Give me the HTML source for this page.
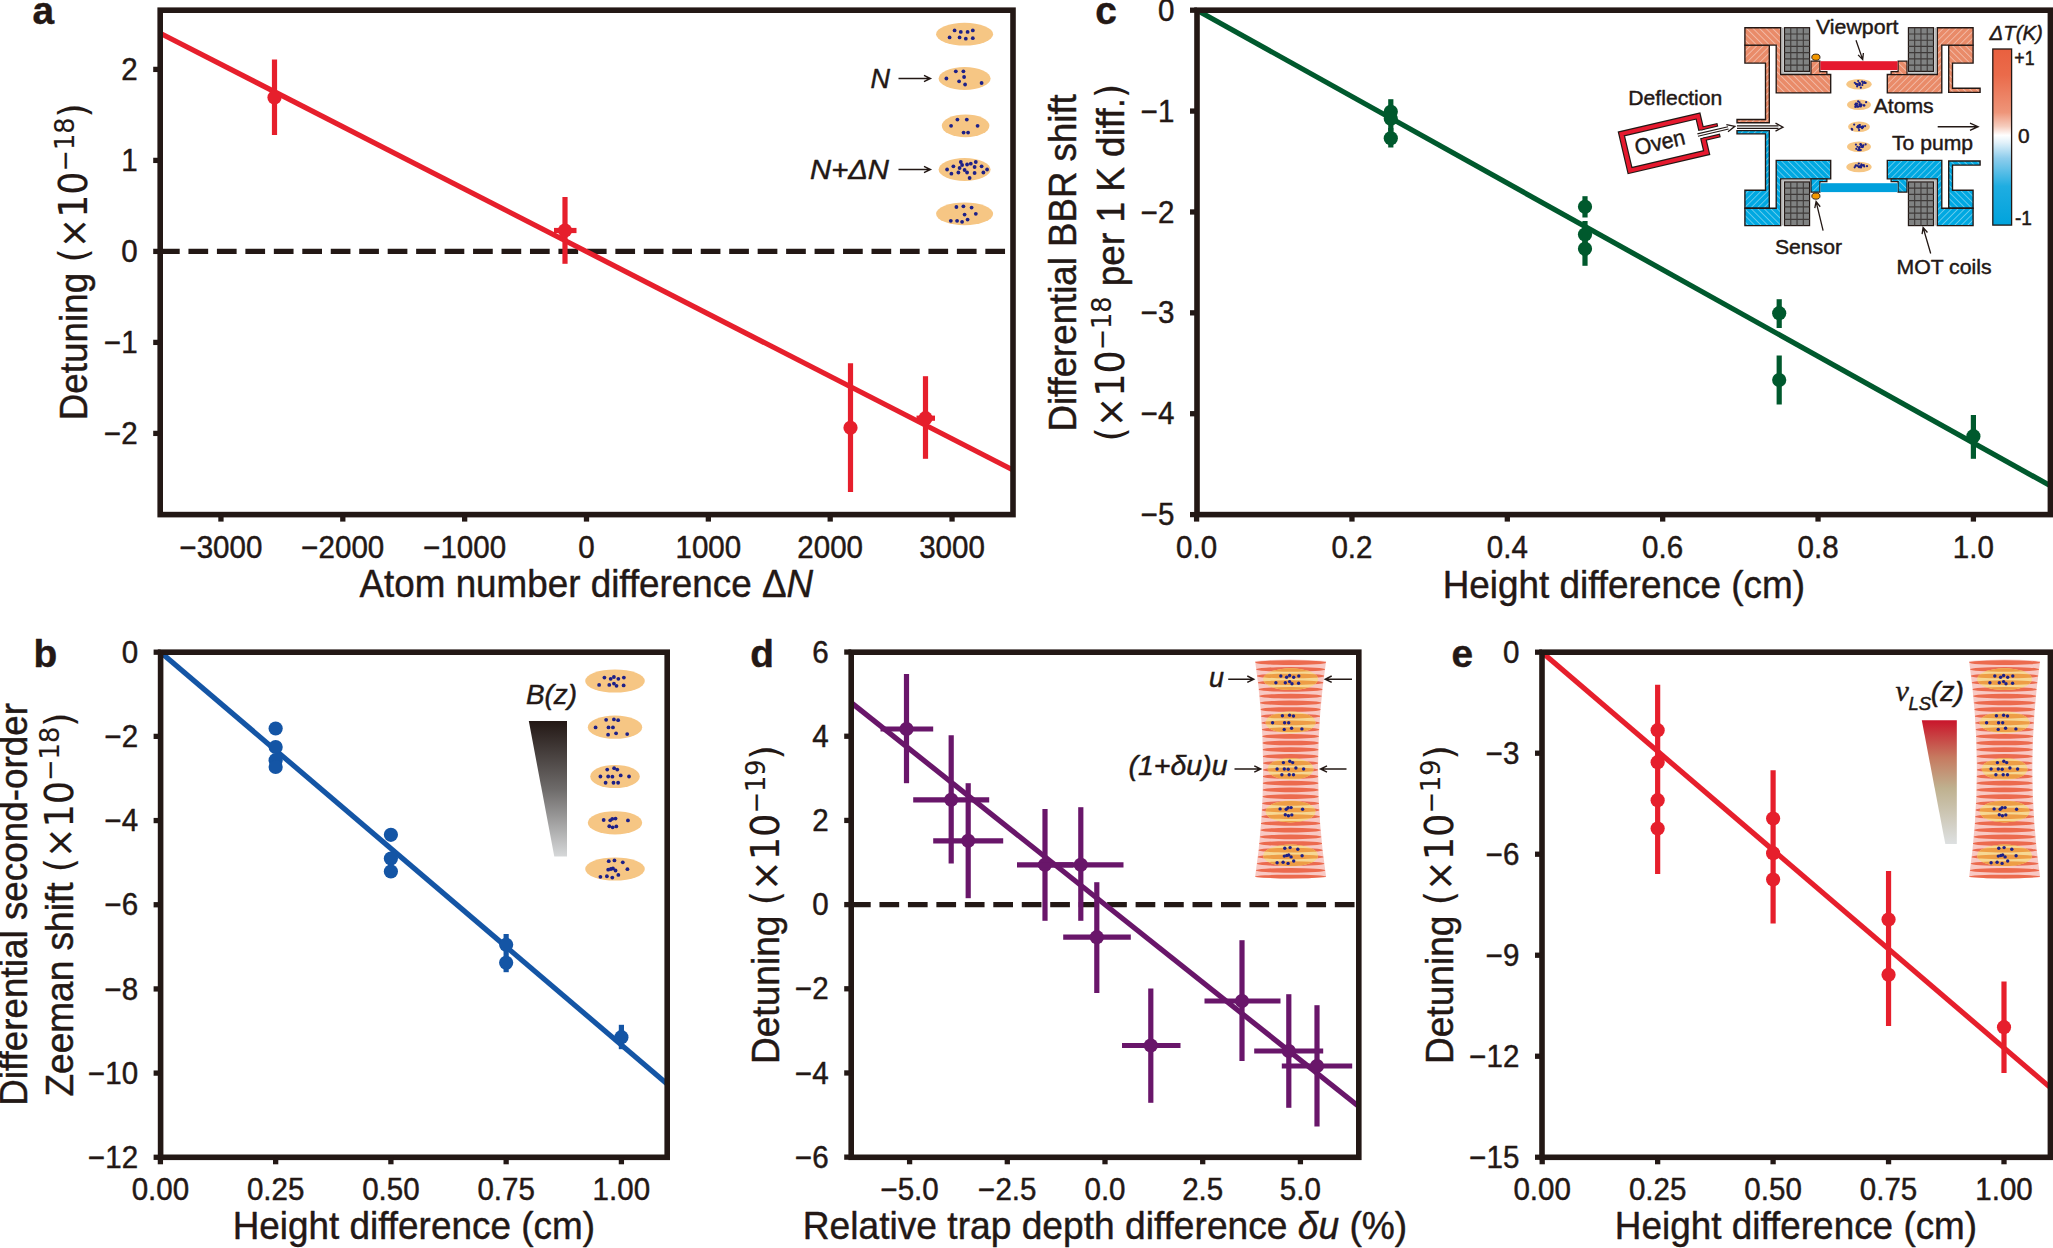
<!DOCTYPE html>
<html lang="en"><head><meta charset="utf-8"><title>Figure</title>
<style>html,body{margin:0;padding:0;background:#fff}svg{display:block}text{font-family:"Liberation Sans",sans-serif;fill:#231815;stroke:#231815;stroke-width:0.45px;stroke-linejoin:round}</style></head>
<body>
<svg width="2053" height="1248" viewBox="0 0 2053 1248">
<rect width="2053" height="1248" fill="#fff"/>
<line x1="160" y1="251.4" x2="1006" y2="251.4" stroke="#231815" stroke-width="5.4" stroke-dasharray="19.7 8.76"/>
<line x1="160.2" y1="33.2" x2="1013" y2="470" stroke="#E61F2C" stroke-width="5.2" />
<line x1="274.5" y1="59.5" x2="274.5" y2="135" stroke="#E61F2C" stroke-width="5.2"/>
<circle cx="274.5" cy="97.5" r="7.1" fill="#E61F2C"/>
<line x1="565" y1="197" x2="565" y2="263.8" stroke="#E61F2C" stroke-width="5.2"/>
<line x1="554" y1="230.5" x2="576.5" y2="230.5" stroke="#E61F2C" stroke-width="5.2"/>
<circle cx="565" cy="230.5" r="7.1" fill="#E61F2C"/>
<line x1="850.5" y1="363.2" x2="850.5" y2="492" stroke="#E61F2C" stroke-width="5.2"/>
<circle cx="850.5" cy="427.8" r="7.1" fill="#E61F2C"/>
<line x1="925.5" y1="376.2" x2="925.5" y2="458.8" stroke="#E61F2C" stroke-width="5.2"/>
<line x1="916.5" y1="418.2" x2="935" y2="418.2" stroke="#E61F2C" stroke-width="5.2"/>
<circle cx="925.5" cy="418.2" r="7.1" fill="#E61F2C"/>
<rect x="160.2" y="10.2" width="852.8" height="504.4" fill="none" stroke="#231815" stroke-width="5.6"/>
<line x1="220.95" y1="514.6" x2="220.95" y2="521.6" stroke="#231815" stroke-width="5.3"/>
<text x="220.95" y="557.9" font-size="30.6" text-anchor="middle" transform="translate(220.95,0) scale(0.966,1) translate(-220.95,0)">−3000</text>
<line x1="342.8" y1="514.6" x2="342.8" y2="521.6" stroke="#231815" stroke-width="5.3"/>
<text x="342.8" y="557.9" font-size="30.6" text-anchor="middle" transform="translate(342.8,0) scale(0.966,1) translate(-342.8,0)">−2000</text>
<line x1="464.65" y1="514.6" x2="464.65" y2="521.6" stroke="#231815" stroke-width="5.3"/>
<text x="464.65" y="557.9" font-size="30.6" text-anchor="middle" transform="translate(464.65,0) scale(0.966,1) translate(-464.65,0)">−1000</text>
<line x1="586.5" y1="514.6" x2="586.5" y2="521.6" stroke="#231815" stroke-width="5.3"/>
<text x="586.5" y="557.9" font-size="30.6" text-anchor="middle" transform="translate(586.5,0) scale(0.966,1) translate(-586.5,0)">0</text>
<line x1="708.35" y1="514.6" x2="708.35" y2="521.6" stroke="#231815" stroke-width="5.3"/>
<text x="708.35" y="557.9" font-size="30.6" text-anchor="middle" transform="translate(708.35,0) scale(0.966,1) translate(-708.35,0)">1000</text>
<line x1="830.2" y1="514.6" x2="830.2" y2="521.6" stroke="#231815" stroke-width="5.3"/>
<text x="830.2" y="557.9" font-size="30.6" text-anchor="middle" transform="translate(830.2,0) scale(0.966,1) translate(-830.2,0)">2000</text>
<line x1="952.05" y1="514.6" x2="952.05" y2="521.6" stroke="#231815" stroke-width="5.3"/>
<text x="952.05" y="557.9" font-size="30.6" text-anchor="middle" transform="translate(952.05,0) scale(0.966,1) translate(-952.05,0)">3000</text>
<line x1="160.2" y1="69.4" x2="153.2" y2="69.4" stroke="#231815" stroke-width="5.3"/>
<text x="137.7" y="80" font-size="30.6" text-anchor="end" transform="translate(137.7,0) scale(0.966,1) translate(-137.7,0)">2</text>
<line x1="160.2" y1="160.4" x2="153.2" y2="160.4" stroke="#231815" stroke-width="5.3"/>
<text x="137.7" y="171" font-size="30.6" text-anchor="end" transform="translate(137.7,0) scale(0.966,1) translate(-137.7,0)">1</text>
<line x1="160.2" y1="251.4" x2="153.2" y2="251.4" stroke="#231815" stroke-width="5.3"/>
<text x="137.7" y="262" font-size="30.6" text-anchor="end" transform="translate(137.7,0) scale(0.966,1) translate(-137.7,0)">0</text>
<line x1="160.2" y1="342.4" x2="153.2" y2="342.4" stroke="#231815" stroke-width="5.3"/>
<text x="137.7" y="353" font-size="30.6" text-anchor="end" transform="translate(137.7,0) scale(0.966,1) translate(-137.7,0)">−1</text>
<line x1="160.2" y1="433.4" x2="153.2" y2="433.4" stroke="#231815" stroke-width="5.3"/>
<text x="137.7" y="444" font-size="30.6" text-anchor="end" transform="translate(137.7,0) scale(0.966,1) translate(-137.7,0)">−2</text>
<text x="586.3" y="596.7" font-size="39.3" text-anchor="middle" textLength="453.6" lengthAdjust="spacingAndGlyphs">Atom number difference Δ<tspan font-style="italic">N</tspan></text>
<g transform="translate(87.2,261.85) rotate(-90) scale(0.9457,1)"><text x="0" y="0" font-size="39" text-anchor="middle">Detuning <tspan font-family="DejaVu Sans, sans-serif" font-size="38.5" stroke-width="0.15">(×10</tspan><tspan font-family="DejaVu Sans, sans-serif" font-size="27" dy="-13.4" stroke-width="0.15">−18</tspan><tspan font-family="DejaVu Sans, sans-serif" font-size="38.5" dy="13.4" stroke-width="0.15">)</tspan></text></g>
<text x="32.4" y="24.4" font-size="38.8" font-weight="bold" stroke-width="0.2">a</text>
<ellipse cx="964.6" cy="34.2" rx="28.5" ry="11.4" fill="#F6C684"/>
<circle cx="954.6" cy="30.4" r="1.9" fill="#1D2088"/>
<circle cx="960.8" cy="31.9" r="1.9" fill="#1D2088"/>
<circle cx="967.6" cy="31.9" r="1.9" fill="#1D2088"/>
<circle cx="972.8" cy="30.4" r="1.9" fill="#1D2088"/>
<circle cx="949.6" cy="37.4" r="1.9" fill="#1D2088"/>
<circle cx="959.6" cy="37.4" r="1.9" fill="#1D2088"/>
<circle cx="965.8" cy="38.7" r="1.9" fill="#1D2088"/>
<circle cx="972.8" cy="38.2" r="1.9" fill="#1D2088"/>
<ellipse cx="964.6" cy="78.5" rx="26" ry="11.4" fill="#F6C684"/>
<circle cx="955.8" cy="71.3" r="1.9" fill="#1D2088"/>
<circle cx="963.4" cy="71.3" r="1.9" fill="#1D2088"/>
<circle cx="946.4" cy="78.5" r="1.9" fill="#1D2088"/>
<circle cx="964.1" cy="77" r="1.9" fill="#1D2088"/>
<circle cx="959.1" cy="81.3" r="1.9" fill="#1D2088"/>
<circle cx="965.1" cy="84.5" r="1.9" fill="#1D2088"/>
<circle cx="981.6" cy="83" r="1.9" fill="#1D2088"/>
<ellipse cx="965.6" cy="125.8" rx="23.8" ry="11.4" fill="#F6C684"/>
<circle cx="957.4" cy="119.6" r="1.9" fill="#1D2088"/>
<circle cx="966.8" cy="119.6" r="1.9" fill="#1D2088"/>
<circle cx="951.1" cy="125.8" r="1.9" fill="#1D2088"/>
<circle cx="977.6" cy="125.8" r="1.9" fill="#1D2088"/>
<circle cx="963.6" cy="132.6" r="1.9" fill="#1D2088"/>
<circle cx="968.1" cy="132.6" r="1.9" fill="#1D2088"/>
<ellipse cx="964.6" cy="169.5" rx="26" ry="11.4" fill="#F6C684"/>
<circle cx="960.8" cy="162" r="1.9" fill="#1D2088"/>
<circle cx="975.8" cy="162" r="1.9" fill="#1D2088"/>
<circle cx="953.4" cy="166.3" r="1.9" fill="#1D2088"/>
<circle cx="962.1" cy="165" r="1.9" fill="#1D2088"/>
<circle cx="967.1" cy="164.5" r="1.9" fill="#1D2088"/>
<circle cx="970.8" cy="163.7" r="1.9" fill="#1D2088"/>
<circle cx="974.6" cy="167" r="1.9" fill="#1D2088"/>
<circle cx="981.6" cy="166.3" r="1.9" fill="#1D2088"/>
<circle cx="947.1" cy="169.5" r="1.9" fill="#1D2088"/>
<circle cx="959.6" cy="168" r="1.9" fill="#1D2088"/>
<circle cx="964.6" cy="170" r="1.9" fill="#1D2088"/>
<circle cx="987.1" cy="169.5" r="1.9" fill="#1D2088"/>
<circle cx="951.4" cy="173.7" r="1.9" fill="#1D2088"/>
<circle cx="958.4" cy="172.5" r="1.9" fill="#1D2088"/>
<circle cx="967.1" cy="172.5" r="1.9" fill="#1D2088"/>
<circle cx="974.6" cy="173" r="1.9" fill="#1D2088"/>
<circle cx="983.4" cy="172.5" r="1.9" fill="#1D2088"/>
<circle cx="969.6" cy="178" r="1.9" fill="#1D2088"/>
<ellipse cx="964.6" cy="213.8" rx="28.5" ry="11.4" fill="#F6C684"/>
<circle cx="956.4" cy="207" r="1.9" fill="#1D2088"/>
<circle cx="963.4" cy="206.3" r="1.9" fill="#1D2088"/>
<circle cx="971.6" cy="207.6" r="1.9" fill="#1D2088"/>
<circle cx="975.8" cy="213.8" r="1.9" fill="#1D2088"/>
<circle cx="964.6" cy="214.6" r="1.9" fill="#1D2088"/>
<circle cx="950.8" cy="220.8" r="1.9" fill="#1D2088"/>
<circle cx="957.1" cy="220.8" r="1.9" fill="#1D2088"/>
<circle cx="962.1" cy="221.8" r="1.9" fill="#1D2088"/>
<circle cx="967.6" cy="219.6" r="1.9" fill="#1D2088"/>
<text x="870.5" y="88.2" font-size="27" font-style="italic">N</text>
<path d="M898.5 78.5L930.5 78.5M924 81.7L930.5 78.5L924 75.3" fill="none" stroke="#231815" stroke-width="1.4" stroke-linejoin="miter"/>
<text x="810" y="179" font-size="27" font-style="italic" textLength="79" lengthAdjust="spacingAndGlyphs">N+ΔN</text>
<path d="M898.5 169.5L930.5 169.5M924 172.7L930.5 169.5L924 166.3" fill="none" stroke="#231815" stroke-width="1.4" stroke-linejoin="miter"/>
<line x1="1197" y1="10.2" x2="2050.4" y2="485.8" stroke="#00592D" stroke-width="5.2" />
<line x1="1390.8" y1="99.2" x2="1390.8" y2="124" stroke="#00592D" stroke-width="5.2"/>
<circle cx="1390.8" cy="111.8" r="7.1" fill="#00592D"/>
<line x1="1390.8" y1="106" x2="1390.8" y2="131" stroke="#00592D" stroke-width="5.2"/>
<circle cx="1390.8" cy="118.8" r="7.1" fill="#00592D"/>
<line x1="1390.8" y1="128" x2="1390.8" y2="147.5" stroke="#00592D" stroke-width="5.2"/>
<circle cx="1390.8" cy="138.2" r="7.1" fill="#00592D"/>
<line x1="1585" y1="196.2" x2="1585" y2="217.5" stroke="#00592D" stroke-width="5.2"/>
<circle cx="1585" cy="206.8" r="7.1" fill="#00592D"/>
<line x1="1585" y1="221" x2="1585" y2="248" stroke="#00592D" stroke-width="5.2"/>
<circle cx="1585" cy="234.5" r="7.1" fill="#00592D"/>
<line x1="1585" y1="234" x2="1585" y2="265.8" stroke="#00592D" stroke-width="5.2"/>
<circle cx="1585" cy="248.8" r="7.1" fill="#00592D"/>
<line x1="1779.2" y1="299.2" x2="1779.2" y2="328" stroke="#00592D" stroke-width="5.2"/>
<circle cx="1779.2" cy="313.2" r="7.1" fill="#00592D"/>
<line x1="1779.2" y1="355.5" x2="1779.2" y2="404.5" stroke="#00592D" stroke-width="5.2"/>
<circle cx="1779.2" cy="380" r="7.1" fill="#00592D"/>
<line x1="1973.4" y1="415" x2="1973.4" y2="458.8" stroke="#00592D" stroke-width="5.2"/>
<circle cx="1973.4" cy="436.2" r="7.1" fill="#00592D"/>
<rect x="1197" y="10.2" width="853.4" height="504.4" fill="none" stroke="#231815" stroke-width="5.6"/>
<line x1="1196.6" y1="514.6" x2="1196.6" y2="521.6" stroke="#231815" stroke-width="5.3"/>
<text x="1196.6" y="557.8" font-size="30.6" text-anchor="middle" transform="translate(1196.6,0) scale(0.966,1) translate(-1196.6,0)">0.0</text>
<line x1="1351.96" y1="514.6" x2="1351.96" y2="521.6" stroke="#231815" stroke-width="5.3"/>
<text x="1351.96" y="557.8" font-size="30.6" text-anchor="middle" transform="translate(1351.96,0) scale(0.966,1) translate(-1351.96,0)">0.2</text>
<line x1="1507.32" y1="514.6" x2="1507.32" y2="521.6" stroke="#231815" stroke-width="5.3"/>
<text x="1507.32" y="557.8" font-size="30.6" text-anchor="middle" transform="translate(1507.32,0) scale(0.966,1) translate(-1507.32,0)">0.4</text>
<line x1="1662.68" y1="514.6" x2="1662.68" y2="521.6" stroke="#231815" stroke-width="5.3"/>
<text x="1662.68" y="557.8" font-size="30.6" text-anchor="middle" transform="translate(1662.68,0) scale(0.966,1) translate(-1662.68,0)">0.6</text>
<line x1="1818.04" y1="514.6" x2="1818.04" y2="521.6" stroke="#231815" stroke-width="5.3"/>
<text x="1818.04" y="557.8" font-size="30.6" text-anchor="middle" transform="translate(1818.04,0) scale(0.966,1) translate(-1818.04,0)">0.8</text>
<line x1="1973.4" y1="514.6" x2="1973.4" y2="521.6" stroke="#231815" stroke-width="5.3"/>
<text x="1973.4" y="557.8" font-size="30.6" text-anchor="middle" transform="translate(1973.4,0) scale(0.966,1) translate(-1973.4,0)">1.0</text>
<line x1="1197" y1="10.2" x2="1190" y2="10.2" stroke="#231815" stroke-width="5.3"/>
<text x="1174.5" y="20.8" font-size="30.6" text-anchor="end" transform="translate(1174.5,0) scale(0.966,1) translate(-1174.5,0)">0</text>
<line x1="1197" y1="111.08" x2="1190" y2="111.08" stroke="#231815" stroke-width="5.3"/>
<text x="1174.5" y="121.68" font-size="30.6" text-anchor="end" transform="translate(1174.5,0) scale(0.966,1) translate(-1174.5,0)">−1</text>
<line x1="1197" y1="211.96" x2="1190" y2="211.96" stroke="#231815" stroke-width="5.3"/>
<text x="1174.5" y="222.56" font-size="30.6" text-anchor="end" transform="translate(1174.5,0) scale(0.966,1) translate(-1174.5,0)">−2</text>
<line x1="1197" y1="312.84" x2="1190" y2="312.84" stroke="#231815" stroke-width="5.3"/>
<text x="1174.5" y="323.44" font-size="30.6" text-anchor="end" transform="translate(1174.5,0) scale(0.966,1) translate(-1174.5,0)">−3</text>
<line x1="1197" y1="413.72" x2="1190" y2="413.72" stroke="#231815" stroke-width="5.3"/>
<text x="1174.5" y="424.32" font-size="30.6" text-anchor="end" transform="translate(1174.5,0) scale(0.966,1) translate(-1174.5,0)">−4</text>
<line x1="1197" y1="514.6" x2="1190" y2="514.6" stroke="#231815" stroke-width="5.3"/>
<text x="1174.5" y="525.2" font-size="30.6" text-anchor="end" transform="translate(1174.5,0) scale(0.966,1) translate(-1174.5,0)">−5</text>
<text x="1623.8" y="597.5" font-size="39.3" text-anchor="middle" textLength="362.3" lengthAdjust="spacingAndGlyphs">Height difference (cm)</text>
<g transform="translate(1076,262.9) rotate(-90) scale(0.9399,1)"><text x="0" y="0" font-size="39" text-anchor="middle">Differential BBR shift</text></g>
<g transform="translate(1123.9,262.65) rotate(-90) scale(0.9468,1)"><text x="0" y="0" font-size="39" text-anchor="middle"><tspan font-family="DejaVu Sans, sans-serif" font-size="38.5" stroke-width="0.15">(×10</tspan><tspan font-family="DejaVu Sans, sans-serif" font-size="27" dy="-13.4" stroke-width="0.15">−18</tspan><tspan dy="13.4"> </tspan>per 1 K diff.<tspan font-family="DejaVu Sans, sans-serif" font-size="38.5" stroke-width="0.15">)</tspan></text></g>
<text x="1095.3" y="24.4" font-size="38.8" font-weight="bold" stroke-width="0.2">c</text>
<line x1="160.6" y1="652.2" x2="667.2" y2="1084" stroke="#1455A5" stroke-width="5.2" />
<circle cx="275.65" cy="728.5" r="7.1" fill="#1455A5"/>
<circle cx="275.65" cy="747" r="7.1" fill="#1455A5"/>
<circle cx="275.65" cy="760.2" r="7.1" fill="#1455A5"/>
<circle cx="275.65" cy="767" r="7.1" fill="#1455A5"/>
<circle cx="390.9" cy="834.8" r="7.1" fill="#1455A5"/>
<circle cx="390.9" cy="858.5" r="7.1" fill="#1455A5"/>
<circle cx="390.9" cy="871.5" r="7.1" fill="#1455A5"/>
<line x1="506.15" y1="934" x2="506.15" y2="972.2" stroke="#1455A5" stroke-width="5.2"/>
<circle cx="506.15" cy="944.8" r="7.1" fill="#1455A5"/>
<circle cx="506.15" cy="962.8" r="7.1" fill="#1455A5"/>
<line x1="621.4" y1="1024.8" x2="621.4" y2="1049.2" stroke="#1455A5" stroke-width="5.2"/>
<circle cx="621.4" cy="1037.2" r="7.1" fill="#1455A5"/>
<rect x="160.6" y="652.2" width="506.6" height="505.1" fill="none" stroke="#231815" stroke-width="5.6"/>
<line x1="160.4" y1="1157.3" x2="160.4" y2="1164.3" stroke="#231815" stroke-width="5.3"/>
<text x="160.4" y="1199.7" font-size="30.6" text-anchor="middle" transform="translate(160.4,0) scale(0.966,1) translate(-160.4,0)">0.00</text>
<line x1="275.65" y1="1157.3" x2="275.65" y2="1164.3" stroke="#231815" stroke-width="5.3"/>
<text x="275.65" y="1199.7" font-size="30.6" text-anchor="middle" transform="translate(275.65,0) scale(0.966,1) translate(-275.65,0)">0.25</text>
<line x1="390.9" y1="1157.3" x2="390.9" y2="1164.3" stroke="#231815" stroke-width="5.3"/>
<text x="390.9" y="1199.7" font-size="30.6" text-anchor="middle" transform="translate(390.9,0) scale(0.966,1) translate(-390.9,0)">0.50</text>
<line x1="506.15" y1="1157.3" x2="506.15" y2="1164.3" stroke="#231815" stroke-width="5.3"/>
<text x="506.15" y="1199.7" font-size="30.6" text-anchor="middle" transform="translate(506.15,0) scale(0.966,1) translate(-506.15,0)">0.75</text>
<line x1="621.4" y1="1157.3" x2="621.4" y2="1164.3" stroke="#231815" stroke-width="5.3"/>
<text x="621.4" y="1199.7" font-size="30.6" text-anchor="middle" transform="translate(621.4,0) scale(0.966,1) translate(-621.4,0)">1.00</text>
<line x1="160.6" y1="652.2" x2="153.6" y2="652.2" stroke="#231815" stroke-width="5.3"/>
<text x="138.1" y="662.8" font-size="30.6" text-anchor="end" transform="translate(138.1,0) scale(0.966,1) translate(-138.1,0)">0</text>
<line x1="160.6" y1="736.38" x2="153.6" y2="736.38" stroke="#231815" stroke-width="5.3"/>
<text x="138.1" y="746.98" font-size="30.6" text-anchor="end" transform="translate(138.1,0) scale(0.966,1) translate(-138.1,0)">−2</text>
<line x1="160.6" y1="820.56" x2="153.6" y2="820.56" stroke="#231815" stroke-width="5.3"/>
<text x="138.1" y="831.16" font-size="30.6" text-anchor="end" transform="translate(138.1,0) scale(0.966,1) translate(-138.1,0)">−4</text>
<line x1="160.6" y1="904.74" x2="153.6" y2="904.74" stroke="#231815" stroke-width="5.3"/>
<text x="138.1" y="915.34" font-size="30.6" text-anchor="end" transform="translate(138.1,0) scale(0.966,1) translate(-138.1,0)">−6</text>
<line x1="160.6" y1="988.92" x2="153.6" y2="988.92" stroke="#231815" stroke-width="5.3"/>
<text x="138.1" y="999.52" font-size="30.6" text-anchor="end" transform="translate(138.1,0) scale(0.966,1) translate(-138.1,0)">−8</text>
<line x1="160.6" y1="1073.1" x2="153.6" y2="1073.1" stroke="#231815" stroke-width="5.3"/>
<text x="138.1" y="1083.7" font-size="30.6" text-anchor="end" transform="translate(138.1,0) scale(0.966,1) translate(-138.1,0)">−10</text>
<line x1="160.6" y1="1157.28" x2="153.6" y2="1157.28" stroke="#231815" stroke-width="5.3"/>
<text x="138.1" y="1167.88" font-size="30.6" text-anchor="end" transform="translate(138.1,0) scale(0.966,1) translate(-138.1,0)">−12</text>
<text x="413.8" y="1238.6" font-size="39.3" text-anchor="middle" textLength="362.3" lengthAdjust="spacingAndGlyphs">Height difference (cm)</text>
<g transform="translate(27.1,904.35) rotate(-90) scale(0.9457,1)"><text x="0" y="0" font-size="39" text-anchor="middle">Differential second-order</text></g>
<g transform="translate(72.5,904.55) rotate(-90) scale(0.9497,1)"><text x="0" y="0" font-size="39" text-anchor="middle">Zeeman shift <tspan font-family="DejaVu Sans, sans-serif" font-size="38.5" stroke-width="0.15">(×10</tspan><tspan font-family="DejaVu Sans, sans-serif" font-size="27" dy="-13.4" stroke-width="0.15">−18</tspan><tspan font-family="DejaVu Sans, sans-serif" font-size="38.5" dy="13.4" stroke-width="0.15">)</tspan></text></g>
<text x="33.6" y="666.8" font-size="38.8" font-weight="bold" stroke-width="0.2">b</text>
<ellipse cx="615" cy="681" rx="29.8" ry="11.6" fill="#F6C684"/>
<circle cx="604.42" cy="677.54" r="1.9" fill="#1D2088"/>
<circle cx="610.68" cy="678.84" r="1.9" fill="#1D2088"/>
<circle cx="613.92" cy="677" r="1.9" fill="#1D2088"/>
<circle cx="618.35" cy="678.84" r="1.9" fill="#1D2088"/>
<circle cx="623.86" cy="677.54" r="1.9" fill="#1D2088"/>
<circle cx="599.12" cy="684.89" r="1.9" fill="#1D2088"/>
<circle cx="609.28" cy="684.89" r="1.9" fill="#1D2088"/>
<circle cx="613.92" cy="683.59" r="1.9" fill="#1D2088"/>
<circle cx="616.51" cy="685.86" r="1.9" fill="#1D2088"/>
<circle cx="623.64" cy="685.43" r="1.9" fill="#1D2088"/>
<ellipse cx="615" cy="727.2" rx="27.2" ry="11.6" fill="#F6C684"/>
<circle cx="606.14" cy="719.86" r="1.9" fill="#1D2088"/>
<circle cx="613.92" cy="719.42" r="1.9" fill="#1D2088"/>
<circle cx="618.13" cy="720.18" r="1.9" fill="#1D2088"/>
<circle cx="595.56" cy="727.42" r="1.9" fill="#1D2088"/>
<circle cx="608.52" cy="727.42" r="1.9" fill="#1D2088"/>
<circle cx="612.95" cy="727.42" r="1.9" fill="#1D2088"/>
<circle cx="608.09" cy="734.65" r="1.9" fill="#1D2088"/>
<circle cx="616.08" cy="733.36" r="1.9" fill="#1D2088"/>
<circle cx="627.2" cy="734.11" r="1.9" fill="#1D2088"/>
<ellipse cx="615" cy="776.5" rx="24.8" ry="11.6" fill="#F6C684"/>
<circle cx="607.22" cy="769.59" r="1.9" fill="#1D2088"/>
<circle cx="614.14" cy="768.18" r="1.9" fill="#1D2088"/>
<circle cx="617.27" cy="769.59" r="1.9" fill="#1D2088"/>
<circle cx="600.42" cy="776.5" r="1.9" fill="#1D2088"/>
<circle cx="608.2" cy="776.5" r="1.9" fill="#1D2088"/>
<circle cx="612.41" cy="776.72" r="1.9" fill="#1D2088"/>
<circle cx="620.72" cy="775.42" r="1.9" fill="#1D2088"/>
<circle cx="629.04" cy="776.5" r="1.9" fill="#1D2088"/>
<circle cx="605.6" cy="782.76" r="1.9" fill="#1D2088"/>
<circle cx="613.49" cy="782.76" r="1.9" fill="#1D2088"/>
<circle cx="618.13" cy="782.76" r="1.9" fill="#1D2088"/>
<ellipse cx="615" cy="822.8" rx="27.2" ry="11.6" fill="#F6C684"/>
<circle cx="603.66" cy="819.99" r="1.9" fill="#1D2088"/>
<circle cx="610.25" cy="820.32" r="1.9" fill="#1D2088"/>
<circle cx="612.3" cy="818.8" r="1.9" fill="#1D2088"/>
<circle cx="615.54" cy="818.59" r="1.9" fill="#1D2088"/>
<circle cx="627.96" cy="820.42" r="1.9" fill="#1D2088"/>
<circle cx="609.28" cy="826.26" r="1.9" fill="#1D2088"/>
<circle cx="612.62" cy="827.34" r="1.9" fill="#1D2088"/>
<circle cx="616.3" cy="826.47" r="1.9" fill="#1D2088"/>
<ellipse cx="615" cy="869" rx="29.8" ry="11.6" fill="#F6C684"/>
<circle cx="608.74" cy="861.22" r="1.9" fill="#1D2088"/>
<circle cx="614.46" cy="860.47" r="1.9" fill="#1D2088"/>
<circle cx="622.78" cy="862.3" r="1.9" fill="#1D2088"/>
<circle cx="612.95" cy="868.46" r="1.9" fill="#1D2088"/>
<circle cx="615.54" cy="870.51" r="1.9" fill="#1D2088"/>
<circle cx="627.42" cy="869.22" r="1.9" fill="#1D2088"/>
<circle cx="608.2" cy="869.65" r="1.9" fill="#1D2088"/>
<circle cx="600.42" cy="876.78" r="1.9" fill="#1D2088"/>
<circle cx="606.9" cy="876.24" r="1.9" fill="#1D2088"/>
<circle cx="612.3" cy="877.53" r="1.9" fill="#1D2088"/>
<circle cx="618.35" cy="874.94" r="1.9" fill="#1D2088"/>
<circle cx="610.9" cy="869" r="1.9" fill="#1D2088"/>
<defs><linearGradient id="gB" x1="0" y1="0" x2="0" y2="1"><stop offset="0" stop-color="#231815"/><stop offset="0.5" stop-color="#6d6a69"/><stop offset="1" stop-color="#d6d8d9"/></linearGradient></defs>
<path d="M528.8 721H567V856.5H554.3Z" fill="url(#gB)"/>
<text x="526" y="703.5" font-size="27" font-style="italic" textLength="51" lengthAdjust="spacingAndGlyphs">B(z)</text>
<line x1="851" y1="904.6" x2="1356" y2="904.6" stroke="#231815" stroke-width="5.4" stroke-dasharray="19.7 8.76"/>
<line x1="851.2" y1="702.6" x2="1358.8" y2="1106.5" stroke="#69166A" stroke-width="5.2" />
<line x1="906.5" y1="674" x2="906.5" y2="783.2" stroke="#69166A" stroke-width="5.2"/>
<line x1="880.5" y1="729" x2="933.2" y2="729" stroke="#69166A" stroke-width="5.2"/>
<circle cx="906.5" cy="729" r="7.1" fill="#69166A"/>
<line x1="951.2" y1="735.2" x2="951.2" y2="863.5" stroke="#69166A" stroke-width="5.2"/>
<line x1="913.2" y1="799.8" x2="989.2" y2="799.8" stroke="#69166A" stroke-width="5.2"/>
<circle cx="951.2" cy="799.8" r="7.1" fill="#69166A"/>
<line x1="968.2" y1="783.2" x2="968.2" y2="898.2" stroke="#69166A" stroke-width="5.2"/>
<line x1="933.2" y1="840.8" x2="1003.2" y2="840.8" stroke="#69166A" stroke-width="5.2"/>
<circle cx="968.2" cy="840.8" r="7.1" fill="#69166A"/>
<line x1="1045" y1="809" x2="1045" y2="920.8" stroke="#69166A" stroke-width="5.2"/>
<line x1="1017" y1="864.8" x2="1073" y2="864.8" stroke="#69166A" stroke-width="5.2"/>
<circle cx="1045" cy="864.8" r="7.1" fill="#69166A"/>
<line x1="1080.8" y1="807.2" x2="1080.8" y2="920.8" stroke="#69166A" stroke-width="5.2"/>
<line x1="1038" y1="864.8" x2="1123.5" y2="864.8" stroke="#69166A" stroke-width="5.2"/>
<circle cx="1080.8" cy="864.8" r="7.1" fill="#69166A"/>
<line x1="1096.8" y1="882.2" x2="1096.8" y2="993" stroke="#69166A" stroke-width="5.2"/>
<line x1="1063.2" y1="937.2" x2="1130.8" y2="937.2" stroke="#69166A" stroke-width="5.2"/>
<circle cx="1096.8" cy="937.2" r="7.1" fill="#69166A"/>
<line x1="1150.8" y1="988.5" x2="1150.8" y2="1102.8" stroke="#69166A" stroke-width="5.2"/>
<line x1="1122" y1="1045.5" x2="1180.5" y2="1045.5" stroke="#69166A" stroke-width="5.2"/>
<circle cx="1150.8" cy="1045.5" r="7.1" fill="#69166A"/>
<line x1="1242" y1="940.2" x2="1242" y2="1061" stroke="#69166A" stroke-width="5.2"/>
<line x1="1204.5" y1="1001" x2="1280.5" y2="1001" stroke="#69166A" stroke-width="5.2"/>
<circle cx="1242" cy="1001" r="7.1" fill="#69166A"/>
<line x1="1288.8" y1="994.2" x2="1288.8" y2="1107.8" stroke="#69166A" stroke-width="5.2"/>
<line x1="1254.2" y1="1051" x2="1323.2" y2="1051" stroke="#69166A" stroke-width="5.2"/>
<circle cx="1288.8" cy="1051" r="7.1" fill="#69166A"/>
<line x1="1317" y1="1005.2" x2="1317" y2="1126.5" stroke="#69166A" stroke-width="5.2"/>
<line x1="1281.8" y1="1066" x2="1352.2" y2="1066" stroke="#69166A" stroke-width="5.2"/>
<circle cx="1317" cy="1066" r="7.1" fill="#69166A"/>
<defs><clipPath id="lc1"><path d="M1255.1 661Q1290.6 658 1326.1 661Q1310.1 769 1326.1 877Q1290.6 880 1255.1 877Q1271.1 769 1255.1 661Z"/></clipPath><clipPath id="le1"><ellipse cx="1290.6" cy="679.2" rx="27.5" ry="10.9"/><ellipse cx="1290.6" cy="722.5" rx="25" ry="10.9"/><ellipse cx="1290.6" cy="769" rx="22.9" ry="10.9"/><ellipse cx="1290.6" cy="811.5" rx="25" ry="10.9"/><ellipse cx="1290.6" cy="855.5" rx="27.5" ry="10.9"/></clipPath></defs>
<path d="M1255.1 661Q1290.6 658 1326.1 661Q1310.1 769 1326.1 877Q1290.6 880 1255.1 877Q1271.1 769 1255.1 661Z" fill="#F8C9C4"/>
<g clip-path="url(#lc1)" fill="#EC6A4E"><ellipse cx="1290.6" cy="662.6" rx="35.76" ry="2.35"/><ellipse cx="1290.6" cy="669.3" rx="34.82" ry="2.35"/><ellipse cx="1290.6" cy="676" rx="33.93" ry="2.35"/><ellipse cx="1290.6" cy="682.7" rx="33.11" ry="2.35"/><ellipse cx="1290.6" cy="689.4" rx="32.35" ry="2.35"/><ellipse cx="1290.6" cy="696.1" rx="31.64" ry="2.35"/><ellipse cx="1290.6" cy="702.8" rx="31.01" ry="2.35"/><ellipse cx="1290.6" cy="709.5" rx="30.43" ry="2.35"/><ellipse cx="1290.6" cy="716.2" rx="29.91" ry="2.35"/><ellipse cx="1290.6" cy="722.9" rx="29.46" ry="2.35"/><ellipse cx="1290.6" cy="729.6" rx="29.06" ry="2.35"/><ellipse cx="1290.6" cy="736.3" rx="28.73" ry="2.35"/><ellipse cx="1290.6" cy="743" rx="28.46" ry="2.35"/><ellipse cx="1290.6" cy="749.7" rx="28.26" ry="2.35"/><ellipse cx="1290.6" cy="756.4" rx="28.11" ry="2.35"/><ellipse cx="1290.6" cy="763.1" rx="28.02" ry="2.35"/><ellipse cx="1290.6" cy="769.8" rx="28" ry="2.35"/><ellipse cx="1290.6" cy="776.5" rx="28.04" ry="2.35"/><ellipse cx="1290.6" cy="783.2" rx="28.14" ry="2.35"/><ellipse cx="1290.6" cy="789.9" rx="28.3" ry="2.35"/><ellipse cx="1290.6" cy="796.6" rx="28.52" ry="2.35"/><ellipse cx="1290.6" cy="803.3" rx="28.81" ry="2.35"/><ellipse cx="1290.6" cy="810" rx="29.15" ry="2.35"/><ellipse cx="1290.6" cy="816.7" rx="29.56" ry="2.35"/><ellipse cx="1290.6" cy="823.4" rx="30.03" ry="2.35"/><ellipse cx="1290.6" cy="830.1" rx="30.56" ry="2.35"/><ellipse cx="1290.6" cy="836.8" rx="31.15" ry="2.35"/><ellipse cx="1290.6" cy="843.5" rx="31.81" ry="2.35"/><ellipse cx="1290.6" cy="850.2" rx="32.52" ry="2.35"/><ellipse cx="1290.6" cy="856.9" rx="33.3" ry="2.35"/><ellipse cx="1290.6" cy="863.6" rx="34.14" ry="2.35"/><ellipse cx="1290.6" cy="870.3" rx="35.04" ry="2.35"/><ellipse cx="1290.6" cy="877" rx="36" ry="2.35"/></g>
<ellipse cx="1290.6" cy="679.2" rx="27.5" ry="10.9" fill="#F6D894"/>
<ellipse cx="1290.6" cy="722.5" rx="25" ry="10.9" fill="#F6D894"/>
<ellipse cx="1290.6" cy="769" rx="22.9" ry="10.9" fill="#F6D894"/>
<ellipse cx="1290.6" cy="811.5" rx="25" ry="10.9" fill="#F6D894"/>
<ellipse cx="1290.6" cy="855.5" rx="27.5" ry="10.9" fill="#F6D894"/>
<g clip-path="url(#le1)" fill="#EE9D45"><ellipse cx="1290.6" cy="662.6" rx="35.76" ry="2.35"/><ellipse cx="1290.6" cy="669.3" rx="34.82" ry="2.35"/><ellipse cx="1290.6" cy="676" rx="33.93" ry="2.35"/><ellipse cx="1290.6" cy="682.7" rx="33.11" ry="2.35"/><ellipse cx="1290.6" cy="689.4" rx="32.35" ry="2.35"/><ellipse cx="1290.6" cy="696.1" rx="31.64" ry="2.35"/><ellipse cx="1290.6" cy="702.8" rx="31.01" ry="2.35"/><ellipse cx="1290.6" cy="709.5" rx="30.43" ry="2.35"/><ellipse cx="1290.6" cy="716.2" rx="29.91" ry="2.35"/><ellipse cx="1290.6" cy="722.9" rx="29.46" ry="2.35"/><ellipse cx="1290.6" cy="729.6" rx="29.06" ry="2.35"/><ellipse cx="1290.6" cy="736.3" rx="28.73" ry="2.35"/><ellipse cx="1290.6" cy="743" rx="28.46" ry="2.35"/><ellipse cx="1290.6" cy="749.7" rx="28.26" ry="2.35"/><ellipse cx="1290.6" cy="756.4" rx="28.11" ry="2.35"/><ellipse cx="1290.6" cy="763.1" rx="28.02" ry="2.35"/><ellipse cx="1290.6" cy="769.8" rx="28" ry="2.35"/><ellipse cx="1290.6" cy="776.5" rx="28.04" ry="2.35"/><ellipse cx="1290.6" cy="783.2" rx="28.14" ry="2.35"/><ellipse cx="1290.6" cy="789.9" rx="28.3" ry="2.35"/><ellipse cx="1290.6" cy="796.6" rx="28.52" ry="2.35"/><ellipse cx="1290.6" cy="803.3" rx="28.81" ry="2.35"/><ellipse cx="1290.6" cy="810" rx="29.15" ry="2.35"/><ellipse cx="1290.6" cy="816.7" rx="29.56" ry="2.35"/><ellipse cx="1290.6" cy="823.4" rx="30.03" ry="2.35"/><ellipse cx="1290.6" cy="830.1" rx="30.56" ry="2.35"/><ellipse cx="1290.6" cy="836.8" rx="31.15" ry="2.35"/><ellipse cx="1290.6" cy="843.5" rx="31.81" ry="2.35"/><ellipse cx="1290.6" cy="850.2" rx="32.52" ry="2.35"/><ellipse cx="1290.6" cy="856.9" rx="33.3" ry="2.35"/><ellipse cx="1290.6" cy="863.6" rx="34.14" ry="2.35"/><ellipse cx="1290.6" cy="870.3" rx="35.04" ry="2.35"/><ellipse cx="1290.6" cy="877" rx="36" ry="2.35"/></g>
<circle cx="1280.8" cy="676" r="1.7" fill="#1D2088"/>
<circle cx="1286.6" cy="677.2" r="1.7" fill="#1D2088"/>
<circle cx="1289.6" cy="675.5" r="1.7" fill="#1D2088"/>
<circle cx="1293.7" cy="677.2" r="1.7" fill="#1D2088"/>
<circle cx="1298.8" cy="676" r="1.7" fill="#1D2088"/>
<circle cx="1275.9" cy="682.8" r="1.7" fill="#1D2088"/>
<circle cx="1285.3" cy="682.8" r="1.7" fill="#1D2088"/>
<circle cx="1289.6" cy="681.6" r="1.7" fill="#1D2088"/>
<circle cx="1292" cy="683.7" r="1.7" fill="#1D2088"/>
<circle cx="1298.6" cy="683.3" r="1.7" fill="#1D2088"/>
<circle cx="1282.4" cy="715.7" r="1.7" fill="#1D2088"/>
<circle cx="1289.6" cy="715.3" r="1.7" fill="#1D2088"/>
<circle cx="1293.5" cy="716" r="1.7" fill="#1D2088"/>
<circle cx="1272.6" cy="722.7" r="1.7" fill="#1D2088"/>
<circle cx="1284.6" cy="722.7" r="1.7" fill="#1D2088"/>
<circle cx="1288.7" cy="722.7" r="1.7" fill="#1D2088"/>
<circle cx="1284.2" cy="729.4" r="1.7" fill="#1D2088"/>
<circle cx="1291.6" cy="728.2" r="1.7" fill="#1D2088"/>
<circle cx="1301.9" cy="728.9" r="1.7" fill="#1D2088"/>
<circle cx="1283.4" cy="762.6" r="1.7" fill="#1D2088"/>
<circle cx="1289.8" cy="761.3" r="1.7" fill="#1D2088"/>
<circle cx="1292.7" cy="762.6" r="1.7" fill="#1D2088"/>
<circle cx="1277.1" cy="769" r="1.7" fill="#1D2088"/>
<circle cx="1284.3" cy="769" r="1.7" fill="#1D2088"/>
<circle cx="1288.2" cy="769.2" r="1.7" fill="#1D2088"/>
<circle cx="1295.9" cy="768" r="1.7" fill="#1D2088"/>
<circle cx="1303.6" cy="769" r="1.7" fill="#1D2088"/>
<circle cx="1281.9" cy="774.8" r="1.7" fill="#1D2088"/>
<circle cx="1289.2" cy="774.8" r="1.7" fill="#1D2088"/>
<circle cx="1293.5" cy="774.8" r="1.7" fill="#1D2088"/>
<circle cx="1280.1" cy="808.9" r="1.7" fill="#1D2088"/>
<circle cx="1286.2" cy="809.2" r="1.7" fill="#1D2088"/>
<circle cx="1288.1" cy="807.8" r="1.7" fill="#1D2088"/>
<circle cx="1291.1" cy="807.6" r="1.7" fill="#1D2088"/>
<circle cx="1302.6" cy="809.3" r="1.7" fill="#1D2088"/>
<circle cx="1285.3" cy="814.7" r="1.7" fill="#1D2088"/>
<circle cx="1288.4" cy="815.7" r="1.7" fill="#1D2088"/>
<circle cx="1291.8" cy="814.9" r="1.7" fill="#1D2088"/>
<circle cx="1284.8" cy="848.3" r="1.7" fill="#1D2088"/>
<circle cx="1290.1" cy="847.6" r="1.7" fill="#1D2088"/>
<circle cx="1297.8" cy="849.3" r="1.7" fill="#1D2088"/>
<circle cx="1288.7" cy="855" r="1.7" fill="#1D2088"/>
<circle cx="1291.1" cy="856.9" r="1.7" fill="#1D2088"/>
<circle cx="1302.1" cy="855.7" r="1.7" fill="#1D2088"/>
<circle cx="1284.3" cy="856.1" r="1.7" fill="#1D2088"/>
<circle cx="1277.1" cy="862.7" r="1.7" fill="#1D2088"/>
<circle cx="1283.1" cy="862.2" r="1.7" fill="#1D2088"/>
<circle cx="1288.1" cy="863.4" r="1.7" fill="#1D2088"/>
<circle cx="1293.7" cy="861" r="1.7" fill="#1D2088"/>
<circle cx="1286.8" cy="855.5" r="1.7" fill="#1D2088"/>
<text x="1209" y="686.5" font-size="27" font-style="italic">u</text>
<path d="M1228.2 679.2L1253.8 679.2M1247.3 682.4L1253.8 679.2L1247.3 676" fill="none" stroke="#231815" stroke-width="1.4" stroke-linejoin="miter"/>
<path d="M1352 679.2L1325.2 679.2M1331.7 676L1325.2 679.2L1331.7 682.4" fill="none" stroke="#231815" stroke-width="1.4" stroke-linejoin="miter"/>
<text x="1128.5" y="775.3" font-size="27" font-style="italic" textLength="99" lengthAdjust="spacingAndGlyphs">(1+δu)u</text>
<path d="M1234.5 769L1260.8 769M1254.3 772.2L1260.8 769L1254.3 765.8" fill="none" stroke="#231815" stroke-width="1.4" stroke-linejoin="miter"/>
<path d="M1346.5 769L1320.5 769M1327 765.8L1320.5 769L1327 772.2" fill="none" stroke="#231815" stroke-width="1.4" stroke-linejoin="miter"/>
<rect x="851.2" y="652.2" width="507.6" height="505.1" fill="none" stroke="#231815" stroke-width="5.6"/>
<line x1="909.6" y1="1157.3" x2="909.6" y2="1164.3" stroke="#231815" stroke-width="5.3"/>
<text x="909.6" y="1199.7" font-size="30.6" text-anchor="middle" transform="translate(909.6,0) scale(0.966,1) translate(-909.6,0)">−5.0</text>
<line x1="1007.3" y1="1157.3" x2="1007.3" y2="1164.3" stroke="#231815" stroke-width="5.3"/>
<text x="1007.3" y="1199.7" font-size="30.6" text-anchor="middle" transform="translate(1007.3,0) scale(0.966,1) translate(-1007.3,0)">−2.5</text>
<line x1="1105" y1="1157.3" x2="1105" y2="1164.3" stroke="#231815" stroke-width="5.3"/>
<text x="1105" y="1199.7" font-size="30.6" text-anchor="middle" transform="translate(1105,0) scale(0.966,1) translate(-1105,0)">0.0</text>
<line x1="1202.7" y1="1157.3" x2="1202.7" y2="1164.3" stroke="#231815" stroke-width="5.3"/>
<text x="1202.7" y="1199.7" font-size="30.6" text-anchor="middle" transform="translate(1202.7,0) scale(0.966,1) translate(-1202.7,0)">2.5</text>
<line x1="1300.4" y1="1157.3" x2="1300.4" y2="1164.3" stroke="#231815" stroke-width="5.3"/>
<text x="1300.4" y="1199.7" font-size="30.6" text-anchor="middle" transform="translate(1300.4,0) scale(0.966,1) translate(-1300.4,0)">5.0</text>
<line x1="851.2" y1="652.06" x2="844.2" y2="652.06" stroke="#231815" stroke-width="5.3"/>
<text x="828.7" y="662.66" font-size="30.6" text-anchor="end" transform="translate(828.7,0) scale(0.966,1) translate(-828.7,0)">6</text>
<line x1="851.2" y1="736.24" x2="844.2" y2="736.24" stroke="#231815" stroke-width="5.3"/>
<text x="828.7" y="746.84" font-size="30.6" text-anchor="end" transform="translate(828.7,0) scale(0.966,1) translate(-828.7,0)">4</text>
<line x1="851.2" y1="820.42" x2="844.2" y2="820.42" stroke="#231815" stroke-width="5.3"/>
<text x="828.7" y="831.02" font-size="30.6" text-anchor="end" transform="translate(828.7,0) scale(0.966,1) translate(-828.7,0)">2</text>
<line x1="851.2" y1="904.6" x2="844.2" y2="904.6" stroke="#231815" stroke-width="5.3"/>
<text x="828.7" y="915.2" font-size="30.6" text-anchor="end" transform="translate(828.7,0) scale(0.966,1) translate(-828.7,0)">0</text>
<line x1="851.2" y1="988.78" x2="844.2" y2="988.78" stroke="#231815" stroke-width="5.3"/>
<text x="828.7" y="999.38" font-size="30.6" text-anchor="end" transform="translate(828.7,0) scale(0.966,1) translate(-828.7,0)">−2</text>
<line x1="851.2" y1="1072.96" x2="844.2" y2="1072.96" stroke="#231815" stroke-width="5.3"/>
<text x="828.7" y="1083.56" font-size="30.6" text-anchor="end" transform="translate(828.7,0) scale(0.966,1) translate(-828.7,0)">−4</text>
<line x1="851.2" y1="1157.14" x2="844.2" y2="1157.14" stroke="#231815" stroke-width="5.3"/>
<text x="828.7" y="1167.74" font-size="30.6" text-anchor="end" transform="translate(828.7,0) scale(0.966,1) translate(-828.7,0)">−6</text>
<text x="1105" y="1238.6" font-size="39.3" text-anchor="middle" textLength="604.5" lengthAdjust="spacingAndGlyphs">Relative trap depth difference <tspan font-style="italic">δu</tspan> (%)</text>
<g transform="translate(778.5,904.6) rotate(-90) scale(0.9520,1)"><text x="0" y="0" font-size="39" text-anchor="middle">Detuning <tspan font-family="DejaVu Sans, sans-serif" font-size="38.5" stroke-width="0.15">(×10</tspan><tspan font-family="DejaVu Sans, sans-serif" font-size="27" dy="-13.4" stroke-width="0.15">−19</tspan><tspan font-family="DejaVu Sans, sans-serif" font-size="38.5" dy="13.4" stroke-width="0.15">)</tspan></text></g>
<text x="750.2" y="666.8" font-size="38.8" font-weight="bold" stroke-width="0.2">d</text>
<line x1="1542" y1="652.2" x2="2050.4" y2="1087.6" stroke="#E61F2C" stroke-width="5.2" />
<line x1="1657.65" y1="684.8" x2="1657.65" y2="874" stroke="#E61F2C" stroke-width="5.2"/>
<circle cx="1657.65" cy="730.2" r="7.1" fill="#E61F2C"/>
<circle cx="1657.65" cy="762.2" r="7.1" fill="#E61F2C"/>
<circle cx="1657.65" cy="800.2" r="7.1" fill="#E61F2C"/>
<circle cx="1657.65" cy="828.5" r="7.1" fill="#E61F2C"/>
<line x1="1773.1" y1="770.2" x2="1773.1" y2="923.5" stroke="#E61F2C" stroke-width="5.2"/>
<circle cx="1773.1" cy="818.5" r="7.1" fill="#E61F2C"/>
<circle cx="1773.1" cy="853.2" r="7.1" fill="#E61F2C"/>
<circle cx="1773.1" cy="879.5" r="7.1" fill="#E61F2C"/>
<line x1="1888.55" y1="871" x2="1888.55" y2="1026" stroke="#E61F2C" stroke-width="5.2"/>
<circle cx="1888.55" cy="919.5" r="7.1" fill="#E61F2C"/>
<circle cx="1888.55" cy="974.8" r="7.1" fill="#E61F2C"/>
<line x1="2004" y1="981.5" x2="2004" y2="1073" stroke="#E61F2C" stroke-width="5.2"/>
<circle cx="2004" cy="1027.2" r="7.1" fill="#E61F2C"/>
<defs><clipPath id="lc2"><path d="M1969.1 661Q2004.6 658 2040.1 661Q2024.7 769 2040.1 877Q2004.6 880 1969.1 877Q1984.5 769 1969.1 661Z"/></clipPath><clipPath id="le2"><ellipse cx="2004.6" cy="679.2" rx="27.5" ry="10.9"/><ellipse cx="2004.6" cy="722.5" rx="25" ry="10.9"/><ellipse cx="2004.6" cy="769" rx="22.9" ry="10.9"/><ellipse cx="2004.6" cy="811.5" rx="25" ry="10.9"/><ellipse cx="2004.6" cy="855.5" rx="27.5" ry="10.9"/></clipPath></defs>
<path d="M1969.1 661Q2004.6 658 2040.1 661Q2024.7 769 2040.1 877Q2004.6 880 1969.1 877Q1984.5 769 1969.1 661Z" fill="#F8C9C4"/>
<g clip-path="url(#lc2)" fill="#EC6A4E"><ellipse cx="2004.6" cy="662.6" rx="35.77" ry="2.35"/><ellipse cx="2004.6" cy="669.3" rx="34.86" ry="2.35"/><ellipse cx="2004.6" cy="676" rx="34.01" ry="2.35"/><ellipse cx="2004.6" cy="682.7" rx="33.22" ry="2.35"/><ellipse cx="2004.6" cy="689.4" rx="32.48" ry="2.35"/><ellipse cx="2004.6" cy="696.1" rx="31.81" ry="2.35"/><ellipse cx="2004.6" cy="702.8" rx="31.19" ry="2.35"/><ellipse cx="2004.6" cy="709.5" rx="30.64" ry="2.35"/><ellipse cx="2004.6" cy="716.2" rx="30.14" ry="2.35"/><ellipse cx="2004.6" cy="722.9" rx="29.7" ry="2.35"/><ellipse cx="2004.6" cy="729.6" rx="29.32" ry="2.35"/><ellipse cx="2004.6" cy="736.3" rx="29.01" ry="2.35"/><ellipse cx="2004.6" cy="743" rx="28.75" ry="2.35"/><ellipse cx="2004.6" cy="749.7" rx="28.55" ry="2.35"/><ellipse cx="2004.6" cy="756.4" rx="28.4" ry="2.35"/><ellipse cx="2004.6" cy="763.1" rx="28.32" ry="2.35"/><ellipse cx="2004.6" cy="769.8" rx="28.3" ry="2.35"/><ellipse cx="2004.6" cy="776.5" rx="28.34" ry="2.35"/><ellipse cx="2004.6" cy="783.2" rx="28.43" ry="2.35"/><ellipse cx="2004.6" cy="789.9" rx="28.59" ry="2.35"/><ellipse cx="2004.6" cy="796.6" rx="28.8" ry="2.35"/><ellipse cx="2004.6" cy="803.3" rx="29.08" ry="2.35"/><ellipse cx="2004.6" cy="810" rx="29.41" ry="2.35"/><ellipse cx="2004.6" cy="816.7" rx="29.8" ry="2.35"/><ellipse cx="2004.6" cy="823.4" rx="30.25" ry="2.35"/><ellipse cx="2004.6" cy="830.1" rx="30.76" ry="2.35"/><ellipse cx="2004.6" cy="836.8" rx="31.33" ry="2.35"/><ellipse cx="2004.6" cy="843.5" rx="31.96" ry="2.35"/><ellipse cx="2004.6" cy="850.2" rx="32.65" ry="2.35"/><ellipse cx="2004.6" cy="856.9" rx="33.4" ry="2.35"/><ellipse cx="2004.6" cy="863.6" rx="34.21" ry="2.35"/><ellipse cx="2004.6" cy="870.3" rx="35.07" ry="2.35"/><ellipse cx="2004.6" cy="877" rx="36" ry="2.35"/></g>
<ellipse cx="2004.6" cy="679.2" rx="27.5" ry="10.9" fill="#F6D894"/>
<ellipse cx="2004.6" cy="722.5" rx="25" ry="10.9" fill="#F6D894"/>
<ellipse cx="2004.6" cy="769" rx="22.9" ry="10.9" fill="#F6D894"/>
<ellipse cx="2004.6" cy="811.5" rx="25" ry="10.9" fill="#F6D894"/>
<ellipse cx="2004.6" cy="855.5" rx="27.5" ry="10.9" fill="#F6D894"/>
<g clip-path="url(#le2)" fill="#EE9D45"><ellipse cx="2004.6" cy="662.6" rx="35.77" ry="2.35"/><ellipse cx="2004.6" cy="669.3" rx="34.86" ry="2.35"/><ellipse cx="2004.6" cy="676" rx="34.01" ry="2.35"/><ellipse cx="2004.6" cy="682.7" rx="33.22" ry="2.35"/><ellipse cx="2004.6" cy="689.4" rx="32.48" ry="2.35"/><ellipse cx="2004.6" cy="696.1" rx="31.81" ry="2.35"/><ellipse cx="2004.6" cy="702.8" rx="31.19" ry="2.35"/><ellipse cx="2004.6" cy="709.5" rx="30.64" ry="2.35"/><ellipse cx="2004.6" cy="716.2" rx="30.14" ry="2.35"/><ellipse cx="2004.6" cy="722.9" rx="29.7" ry="2.35"/><ellipse cx="2004.6" cy="729.6" rx="29.32" ry="2.35"/><ellipse cx="2004.6" cy="736.3" rx="29.01" ry="2.35"/><ellipse cx="2004.6" cy="743" rx="28.75" ry="2.35"/><ellipse cx="2004.6" cy="749.7" rx="28.55" ry="2.35"/><ellipse cx="2004.6" cy="756.4" rx="28.4" ry="2.35"/><ellipse cx="2004.6" cy="763.1" rx="28.32" ry="2.35"/><ellipse cx="2004.6" cy="769.8" rx="28.3" ry="2.35"/><ellipse cx="2004.6" cy="776.5" rx="28.34" ry="2.35"/><ellipse cx="2004.6" cy="783.2" rx="28.43" ry="2.35"/><ellipse cx="2004.6" cy="789.9" rx="28.59" ry="2.35"/><ellipse cx="2004.6" cy="796.6" rx="28.8" ry="2.35"/><ellipse cx="2004.6" cy="803.3" rx="29.08" ry="2.35"/><ellipse cx="2004.6" cy="810" rx="29.41" ry="2.35"/><ellipse cx="2004.6" cy="816.7" rx="29.8" ry="2.35"/><ellipse cx="2004.6" cy="823.4" rx="30.25" ry="2.35"/><ellipse cx="2004.6" cy="830.1" rx="30.76" ry="2.35"/><ellipse cx="2004.6" cy="836.8" rx="31.33" ry="2.35"/><ellipse cx="2004.6" cy="843.5" rx="31.96" ry="2.35"/><ellipse cx="2004.6" cy="850.2" rx="32.65" ry="2.35"/><ellipse cx="2004.6" cy="856.9" rx="33.4" ry="2.35"/><ellipse cx="2004.6" cy="863.6" rx="34.21" ry="2.35"/><ellipse cx="2004.6" cy="870.3" rx="35.07" ry="2.35"/><ellipse cx="2004.6" cy="877" rx="36" ry="2.35"/></g>
<circle cx="1994.8" cy="676" r="1.7" fill="#1D2088"/>
<circle cx="2000.6" cy="677.2" r="1.7" fill="#1D2088"/>
<circle cx="2003.6" cy="675.5" r="1.7" fill="#1D2088"/>
<circle cx="2007.7" cy="677.2" r="1.7" fill="#1D2088"/>
<circle cx="2012.8" cy="676" r="1.7" fill="#1D2088"/>
<circle cx="1989.9" cy="682.8" r="1.7" fill="#1D2088"/>
<circle cx="1999.3" cy="682.8" r="1.7" fill="#1D2088"/>
<circle cx="2003.6" cy="681.6" r="1.7" fill="#1D2088"/>
<circle cx="2006" cy="683.7" r="1.7" fill="#1D2088"/>
<circle cx="2012.6" cy="683.3" r="1.7" fill="#1D2088"/>
<circle cx="1996.4" cy="715.7" r="1.7" fill="#1D2088"/>
<circle cx="2003.6" cy="715.3" r="1.7" fill="#1D2088"/>
<circle cx="2007.5" cy="716" r="1.7" fill="#1D2088"/>
<circle cx="1986.6" cy="722.7" r="1.7" fill="#1D2088"/>
<circle cx="1998.6" cy="722.7" r="1.7" fill="#1D2088"/>
<circle cx="2002.7" cy="722.7" r="1.7" fill="#1D2088"/>
<circle cx="1998.2" cy="729.4" r="1.7" fill="#1D2088"/>
<circle cx="2005.6" cy="728.2" r="1.7" fill="#1D2088"/>
<circle cx="2015.9" cy="728.9" r="1.7" fill="#1D2088"/>
<circle cx="1997.4" cy="762.6" r="1.7" fill="#1D2088"/>
<circle cx="2003.8" cy="761.3" r="1.7" fill="#1D2088"/>
<circle cx="2006.7" cy="762.6" r="1.7" fill="#1D2088"/>
<circle cx="1991.1" cy="769" r="1.7" fill="#1D2088"/>
<circle cx="1998.3" cy="769" r="1.7" fill="#1D2088"/>
<circle cx="2002.2" cy="769.2" r="1.7" fill="#1D2088"/>
<circle cx="2009.9" cy="768" r="1.7" fill="#1D2088"/>
<circle cx="2017.6" cy="769" r="1.7" fill="#1D2088"/>
<circle cx="1995.9" cy="774.8" r="1.7" fill="#1D2088"/>
<circle cx="2003.2" cy="774.8" r="1.7" fill="#1D2088"/>
<circle cx="2007.5" cy="774.8" r="1.7" fill="#1D2088"/>
<circle cx="1994.1" cy="808.9" r="1.7" fill="#1D2088"/>
<circle cx="2000.2" cy="809.2" r="1.7" fill="#1D2088"/>
<circle cx="2002.1" cy="807.8" r="1.7" fill="#1D2088"/>
<circle cx="2005.1" cy="807.6" r="1.7" fill="#1D2088"/>
<circle cx="2016.6" cy="809.3" r="1.7" fill="#1D2088"/>
<circle cx="1999.3" cy="814.7" r="1.7" fill="#1D2088"/>
<circle cx="2002.4" cy="815.7" r="1.7" fill="#1D2088"/>
<circle cx="2005.8" cy="814.9" r="1.7" fill="#1D2088"/>
<circle cx="1998.8" cy="848.3" r="1.7" fill="#1D2088"/>
<circle cx="2004.1" cy="847.6" r="1.7" fill="#1D2088"/>
<circle cx="2011.8" cy="849.3" r="1.7" fill="#1D2088"/>
<circle cx="2002.7" cy="855" r="1.7" fill="#1D2088"/>
<circle cx="2005.1" cy="856.9" r="1.7" fill="#1D2088"/>
<circle cx="2016.1" cy="855.7" r="1.7" fill="#1D2088"/>
<circle cx="1998.3" cy="856.1" r="1.7" fill="#1D2088"/>
<circle cx="1991.1" cy="862.7" r="1.7" fill="#1D2088"/>
<circle cx="1997.1" cy="862.2" r="1.7" fill="#1D2088"/>
<circle cx="2002.1" cy="863.4" r="1.7" fill="#1D2088"/>
<circle cx="2007.7" cy="861" r="1.7" fill="#1D2088"/>
<circle cx="2000.8" cy="855.5" r="1.7" fill="#1D2088"/>
<defs><linearGradient id="gE" x1="0" y1="0" x2="0" y2="1"><stop offset="0" stop-color="#C9152B"/><stop offset="0.3" stop-color="#C67A60"/><stop offset="0.55" stop-color="#BFB18F"/><stop offset="1" stop-color="#DDE0E1"/></linearGradient></defs>
<path d="M1921.8 720.3H1956.8V844H1945.3Z" fill="url(#gE)"/>
<text x="1895.5" y="700.6" font-size="30" font-style="italic" style="font-family:'Liberation Serif',serif">ν</text>
<text x="1908.5" y="710" font-size="18.5" font-style="italic">LS</text>
<text x="1930.8" y="700.6" font-size="28.5" font-style="italic">(z)</text>
<rect x="1542" y="652.2" width="508.4" height="505.1" fill="none" stroke="#231815" stroke-width="5.6"/>
<line x1="1542.2" y1="1157.3" x2="1542.2" y2="1164.3" stroke="#231815" stroke-width="5.3"/>
<text x="1542.2" y="1199.7" font-size="30.6" text-anchor="middle" transform="translate(1542.2,0) scale(0.966,1) translate(-1542.2,0)">0.00</text>
<line x1="1657.65" y1="1157.3" x2="1657.65" y2="1164.3" stroke="#231815" stroke-width="5.3"/>
<text x="1657.65" y="1199.7" font-size="30.6" text-anchor="middle" transform="translate(1657.65,0) scale(0.966,1) translate(-1657.65,0)">0.25</text>
<line x1="1773.1" y1="1157.3" x2="1773.1" y2="1164.3" stroke="#231815" stroke-width="5.3"/>
<text x="1773.1" y="1199.7" font-size="30.6" text-anchor="middle" transform="translate(1773.1,0) scale(0.966,1) translate(-1773.1,0)">0.50</text>
<line x1="1888.55" y1="1157.3" x2="1888.55" y2="1164.3" stroke="#231815" stroke-width="5.3"/>
<text x="1888.55" y="1199.7" font-size="30.6" text-anchor="middle" transform="translate(1888.55,0) scale(0.966,1) translate(-1888.55,0)">0.75</text>
<line x1="2004" y1="1157.3" x2="2004" y2="1164.3" stroke="#231815" stroke-width="5.3"/>
<text x="2004" y="1199.7" font-size="30.6" text-anchor="middle" transform="translate(2004,0) scale(0.966,1) translate(-2004,0)">1.00</text>
<line x1="1542" y1="652.2" x2="1535" y2="652.2" stroke="#231815" stroke-width="5.3"/>
<text x="1519.5" y="662.8" font-size="30.6" text-anchor="end" transform="translate(1519.5,0) scale(0.966,1) translate(-1519.5,0)">0</text>
<line x1="1542" y1="753.21" x2="1535" y2="753.21" stroke="#231815" stroke-width="5.3"/>
<text x="1519.5" y="763.81" font-size="30.6" text-anchor="end" transform="translate(1519.5,0) scale(0.966,1) translate(-1519.5,0)">−3</text>
<line x1="1542" y1="854.22" x2="1535" y2="854.22" stroke="#231815" stroke-width="5.3"/>
<text x="1519.5" y="864.82" font-size="30.6" text-anchor="end" transform="translate(1519.5,0) scale(0.966,1) translate(-1519.5,0)">−6</text>
<line x1="1542" y1="955.23" x2="1535" y2="955.23" stroke="#231815" stroke-width="5.3"/>
<text x="1519.5" y="965.83" font-size="30.6" text-anchor="end" transform="translate(1519.5,0) scale(0.966,1) translate(-1519.5,0)">−9</text>
<line x1="1542" y1="1056.24" x2="1535" y2="1056.24" stroke="#231815" stroke-width="5.3"/>
<text x="1519.5" y="1066.84" font-size="30.6" text-anchor="end" transform="translate(1519.5,0) scale(0.966,1) translate(-1519.5,0)">−12</text>
<line x1="1542" y1="1157.25" x2="1535" y2="1157.25" stroke="#231815" stroke-width="5.3"/>
<text x="1519.5" y="1167.85" font-size="30.6" text-anchor="end" transform="translate(1519.5,0) scale(0.966,1) translate(-1519.5,0)">−15</text>
<text x="1796" y="1238.6" font-size="39.3" text-anchor="middle" textLength="362.3" lengthAdjust="spacingAndGlyphs">Height difference (cm)</text>
<g transform="translate(1453.3,904.6) rotate(-90) scale(0.9520,1)"><text x="0" y="0" font-size="39" text-anchor="middle">Detuning <tspan font-family="DejaVu Sans, sans-serif" font-size="38.5" stroke-width="0.15">(×10</tspan><tspan font-family="DejaVu Sans, sans-serif" font-size="27" dy="-13.4" stroke-width="0.15">−19</tspan><tspan font-family="DejaVu Sans, sans-serif" font-size="38.5" dy="13.4" stroke-width="0.15">)</tspan></text></g>
<text x="1451.4" y="666.8" font-size="38.8" font-weight="bold" stroke-width="0.2">e</text>
<defs><pattern id="hA" width="4.6" height="4.6" patternUnits="userSpaceOnUse" patternTransform="rotate(-45)"><line x1="0" y1="0" x2="0" y2="4.6" stroke="#fff" stroke-width="0.75"/></pattern><pattern id="hB" width="4.6" height="4.6" patternUnits="userSpaceOnUse" patternTransform="rotate(45)"><line x1="0" y1="0" x2="0" y2="4.6" stroke="#fff" stroke-width="0.75"/></pattern><linearGradient id="gC" x1="0" y1="0" x2="0" y2="1"><stop offset="0" stop-color="#E9603F"/><stop offset="0.15" stop-color="#EA6B4B"/><stop offset="0.36" stop-color="#EE9579"/><stop offset="0.44" stop-color="#F6CDBE"/><stop offset="0.49" stop-color="#ffffff"/><stop offset="0.53" stop-color="#E3F2FA"/><stop offset="0.62" stop-color="#8ECDEC"/><stop offset="0.78" stop-color="#1FADE1"/><stop offset="1" stop-color="#00A3DC"/></linearGradient></defs>
<rect x="1781.2" y="27.7" width="29.4" height="46.5" fill="#fff"/>
<polyline points="1782.7,27.7 1782.7,72.9 1810.6,72.9" fill="none" stroke="#B9BABA" stroke-width="1.5"/>
<rect x="1784.5" y="27.7" width="25.08" height="43.68" fill="#808282" stroke="#231815" stroke-width="1.2"/>
<path d="M1790.77 27.7V71.38M1797.04 27.7V71.38M1803.31 27.7V71.38M1784.5 33.94H1809.58M1784.5 40.18H1809.58M1784.5 46.42H1809.58M1784.5 52.66H1809.58M1784.5 58.9H1809.58M1784.5 65.14H1809.58" stroke="#3E3A39" stroke-width="1.1" fill="none"/>
<polygon points="1744.9,45.1 1769.3,45.1 1769.3,122.7 1737,122.7 1737,119.5 1765.5,119.5 1765.5,63.1 1744.9,63.1" fill="#E98B69"/>
<polygon points="1744.9,45.1 1769.3,45.1 1769.3,122.7 1737,122.7 1737,119.5 1765.5,119.5 1765.5,63.1 1744.9,63.1" fill="url(#hB)"/>
<polygon points="1744.9,45.1 1769.3,45.1 1769.3,122.7 1737,122.7 1737,119.5 1765.5,119.5 1765.5,63.1 1744.9,63.1" fill="none" stroke="#231815" stroke-width="1.35" stroke-linejoin="miter"/>
<polygon points="1744.9,27.7 1780.7,27.7 1780.7,74.5 1830.7,74.5 1830.7,92.9 1776.2,92.9 1776.2,45.1 1744.9,45.1" fill="#E98B69"/>
<polygon points="1744.9,27.7 1780.7,27.7 1780.7,74.5 1830.7,74.5 1830.7,92.9 1776.2,92.9 1776.2,45.1 1744.9,45.1" fill="url(#hA)"/>
<polygon points="1744.9,27.7 1780.7,27.7 1780.7,74.5 1830.7,74.5 1830.7,92.9 1776.2,92.9 1776.2,45.1 1744.9,45.1" fill="none" stroke="#231815" stroke-width="1.35" stroke-linejoin="miter"/>
<polygon points="1811,61.2 1819.9,61.2 1819.9,71.6 1826.9,71.6 1826.9,74.5 1811,74.5" fill="#E98B69"/>
<polygon points="1811,61.2 1819.9,61.2 1819.9,71.6 1826.9,71.6 1826.9,74.5 1811,74.5" fill="url(#hB)"/>
<polygon points="1811,61.2 1819.9,61.2 1819.9,71.6 1826.9,71.6 1826.9,74.5 1811,74.5" fill="none" stroke="#231815" stroke-width="1.2" stroke-linejoin="miter"/>
<rect x="1907.4" y="27.7" width="29.4" height="46.5" fill="#fff"/>
<polyline points="1935.3,27.7 1935.3,72.9 1907.4,72.9" fill="none" stroke="#B9BABA" stroke-width="1.5"/>
<rect x="1908.42" y="27.7" width="25.08" height="43.68" fill="#808282" stroke="#231815" stroke-width="1.2"/>
<path d="M1914.69 27.7V71.38M1920.96 27.7V71.38M1927.23 27.7V71.38M1908.42 33.94H1933.5M1908.42 40.18H1933.5M1908.42 46.42H1933.5M1908.42 52.66H1933.5M1908.42 58.9H1933.5M1908.42 65.14H1933.5" stroke="#3E3A39" stroke-width="1.1" fill="none"/>
<polygon points="1973.1,45.1 1948.7,45.1 1948.7,92.3 1980.1,92.3 1980.1,88.2 1952.5,88.2 1952.5,63.1 1973.1,63.1" fill="#E98B69"/>
<polygon points="1973.1,45.1 1948.7,45.1 1948.7,92.3 1980.1,92.3 1980.1,88.2 1952.5,88.2 1952.5,63.1 1973.1,63.1" fill="url(#hA)"/>
<polygon points="1973.1,45.1 1948.7,45.1 1948.7,92.3 1980.1,92.3 1980.1,88.2 1952.5,88.2 1952.5,63.1 1973.1,63.1" fill="none" stroke="#231815" stroke-width="1.35" stroke-linejoin="miter"/>
<polygon points="1973.1,27.7 1937.3,27.7 1937.3,74.5 1887.3,74.5 1887.3,92.9 1941.8,92.9 1941.8,45.1 1973.1,45.1" fill="#E98B69"/>
<polygon points="1973.1,27.7 1937.3,27.7 1937.3,74.5 1887.3,74.5 1887.3,92.9 1941.8,92.9 1941.8,45.1 1973.1,45.1" fill="url(#hB)"/>
<polygon points="1973.1,27.7 1937.3,27.7 1937.3,74.5 1887.3,74.5 1887.3,92.9 1941.8,92.9 1941.8,45.1 1973.1,45.1" fill="none" stroke="#231815" stroke-width="1.35" stroke-linejoin="miter"/>
<polygon points="1907,61.2 1898.1,61.2 1898.1,71.6 1891.1,71.6 1891.1,74.5 1907,74.5" fill="#E98B69"/>
<polygon points="1907,61.2 1898.1,61.2 1898.1,71.6 1891.1,71.6 1891.1,74.5 1907,74.5" fill="url(#hA)"/>
<polygon points="1907,61.2 1898.1,61.2 1898.1,71.6 1891.1,71.6 1891.1,74.5 1907,74.5" fill="none" stroke="#231815" stroke-width="1.2" stroke-linejoin="miter"/>
<rect x="1820.4" y="61.2" width="77.2" height="8.9" fill="#E5192E"/>
<ellipse cx="1815.9" cy="57.2" rx="4.1" ry="3.1" fill="#F39800" stroke="#231815" stroke-width="0.9"/>
<rect x="1781.2" y="179.1" width="29.4" height="46.5" fill="#fff"/>
<polyline points="1782.7,225.6 1782.7,180.4 1810.6,180.4" fill="none" stroke="#B9BABA" stroke-width="1.5"/>
<rect x="1784.5" y="181.92" width="25.08" height="43.68" fill="#808282" stroke="#231815" stroke-width="1.2"/>
<path d="M1790.77 181.92V225.6M1797.04 181.92V225.6M1803.31 181.92V225.6M1784.5 188.16H1809.58M1784.5 194.4H1809.58M1784.5 200.64H1809.58M1784.5 206.88H1809.58M1784.5 213.12H1809.58M1784.5 219.36H1809.58" stroke="#3E3A39" stroke-width="1.1" fill="none"/>
<polygon points="1744.9,208.2 1769.3,208.2 1769.3,130.6 1737,130.6 1737,133.8 1765.5,133.8 1765.5,190.2 1744.9,190.2" fill="#00A8E1"/>
<polygon points="1744.9,208.2 1769.3,208.2 1769.3,130.6 1737,130.6 1737,133.8 1765.5,133.8 1765.5,190.2 1744.9,190.2" fill="url(#hB)"/>
<polygon points="1744.9,208.2 1769.3,208.2 1769.3,130.6 1737,130.6 1737,133.8 1765.5,133.8 1765.5,190.2 1744.9,190.2" fill="none" stroke="#231815" stroke-width="1.35" stroke-linejoin="miter"/>
<polygon points="1744.9,225.6 1780.7,225.6 1780.7,178.8 1830.7,178.8 1830.7,160.4 1776.2,160.4 1776.2,208.2 1744.9,208.2" fill="#00A8E1"/>
<polygon points="1744.9,225.6 1780.7,225.6 1780.7,178.8 1830.7,178.8 1830.7,160.4 1776.2,160.4 1776.2,208.2 1744.9,208.2" fill="url(#hA)"/>
<polygon points="1744.9,225.6 1780.7,225.6 1780.7,178.8 1830.7,178.8 1830.7,160.4 1776.2,160.4 1776.2,208.2 1744.9,208.2" fill="none" stroke="#231815" stroke-width="1.35" stroke-linejoin="miter"/>
<polygon points="1811,192.1 1819.9,192.1 1819.9,181.7 1826.9,181.7 1826.9,178.8 1811,178.8" fill="#00A8E1"/>
<polygon points="1811,192.1 1819.9,192.1 1819.9,181.7 1826.9,181.7 1826.9,178.8 1811,178.8" fill="url(#hB)"/>
<polygon points="1811,192.1 1819.9,192.1 1819.9,181.7 1826.9,181.7 1826.9,178.8 1811,178.8" fill="none" stroke="#231815" stroke-width="1.2" stroke-linejoin="miter"/>
<rect x="1907.4" y="179.1" width="29.4" height="46.5" fill="#fff"/>
<polyline points="1935.3,225.6 1935.3,180.4 1907.4,180.4" fill="none" stroke="#B9BABA" stroke-width="1.5"/>
<rect x="1908.42" y="181.92" width="25.08" height="43.68" fill="#808282" stroke="#231815" stroke-width="1.2"/>
<path d="M1914.69 181.92V225.6M1920.96 181.92V225.6M1927.23 181.92V225.6M1908.42 188.16H1933.5M1908.42 194.4H1933.5M1908.42 200.64H1933.5M1908.42 206.88H1933.5M1908.42 213.12H1933.5M1908.42 219.36H1933.5" stroke="#3E3A39" stroke-width="1.1" fill="none"/>
<polygon points="1973.1,208.2 1948.7,208.2 1948.7,161 1980.1,161 1980.1,165.1 1952.5,165.1 1952.5,190.2 1973.1,190.2" fill="#00A8E1"/>
<polygon points="1973.1,208.2 1948.7,208.2 1948.7,161 1980.1,161 1980.1,165.1 1952.5,165.1 1952.5,190.2 1973.1,190.2" fill="url(#hA)"/>
<polygon points="1973.1,208.2 1948.7,208.2 1948.7,161 1980.1,161 1980.1,165.1 1952.5,165.1 1952.5,190.2 1973.1,190.2" fill="none" stroke="#231815" stroke-width="1.35" stroke-linejoin="miter"/>
<polygon points="1973.1,225.6 1937.3,225.6 1937.3,178.8 1887.3,178.8 1887.3,160.4 1941.8,160.4 1941.8,208.2 1973.1,208.2" fill="#00A8E1"/>
<polygon points="1973.1,225.6 1937.3,225.6 1937.3,178.8 1887.3,178.8 1887.3,160.4 1941.8,160.4 1941.8,208.2 1973.1,208.2" fill="url(#hB)"/>
<polygon points="1973.1,225.6 1937.3,225.6 1937.3,178.8 1887.3,178.8 1887.3,160.4 1941.8,160.4 1941.8,208.2 1973.1,208.2" fill="none" stroke="#231815" stroke-width="1.35" stroke-linejoin="miter"/>
<polygon points="1907,192.1 1898.1,192.1 1898.1,181.7 1891.1,181.7 1891.1,178.8 1907,178.8" fill="#00A8E1"/>
<polygon points="1907,192.1 1898.1,192.1 1898.1,181.7 1891.1,181.7 1891.1,178.8 1907,178.8" fill="url(#hA)"/>
<polygon points="1907,192.1 1898.1,192.1 1898.1,181.7 1891.1,181.7 1891.1,178.8 1907,178.8" fill="none" stroke="#231815" stroke-width="1.2" stroke-linejoin="miter"/>
<rect x="1820.4" y="183.2" width="77.2" height="8.9" fill="#00A0DC"/>
<ellipse cx="1815.9" cy="196.1" rx="4.1" ry="3.1" fill="#F39800" stroke="#231815" stroke-width="0.9"/>
<ellipse cx="1859" cy="84.3" rx="12.7" ry="5.3" fill="#F6C684"/>
<circle cx="1859.15" cy="85.09" r="1.1" fill="#1D2088"/>
<circle cx="1857.34" cy="84.9" r="1.1" fill="#1D2088"/>
<circle cx="1862.33" cy="85" r="1.1" fill="#1D2088"/>
<circle cx="1864.62" cy="82.8" r="1.1" fill="#1D2088"/>
<circle cx="1859.24" cy="83.1" r="1.1" fill="#1D2088"/>
<circle cx="1856.18" cy="83.99" r="1.1" fill="#1D2088"/>
<circle cx="1859.8" cy="85.01" r="1.1" fill="#1D2088"/>
<circle cx="1860.83" cy="87.7" r="1.1" fill="#1D2088"/>
<circle cx="1862.11" cy="81.59" r="1.1" fill="#1D2088"/>
<circle cx="1859.74" cy="83.24" r="1.1" fill="#1D2088"/>
<circle cx="1857.14" cy="86.52" r="1.1" fill="#1D2088"/>
<circle cx="1858.2" cy="80.98" r="1.1" fill="#1D2088"/>
<circle cx="1860.12" cy="83.8" r="1.1" fill="#1D2088"/>
<circle cx="1854.77" cy="82.73" r="1.1" fill="#1D2088"/>
<circle cx="1856.75" cy="84.26" r="1.1" fill="#1D2088"/>
<circle cx="1857.46" cy="84.42" r="1.1" fill="#1D2088"/>
<circle cx="1865.61" cy="82.94" r="1.1" fill="#1D2088"/>
<circle cx="1856.09" cy="83.88" r="1.1" fill="#1D2088"/>
<circle cx="1862.94" cy="83.1" r="1.1" fill="#1D2088"/>
<circle cx="1864.16" cy="82.08" r="1.1" fill="#1D2088"/>
<ellipse cx="1859" cy="104.7" rx="12.0" ry="5.3" fill="#F6C684"/>
<circle cx="1855.28" cy="104.61" r="1.1" fill="#1D2088"/>
<circle cx="1855.89" cy="103.65" r="1.1" fill="#1D2088"/>
<circle cx="1860.62" cy="105.93" r="1.1" fill="#1D2088"/>
<circle cx="1859.41" cy="104.23" r="1.1" fill="#1D2088"/>
<circle cx="1863.84" cy="105.38" r="1.1" fill="#1D2088"/>
<circle cx="1858.15" cy="106.76" r="1.1" fill="#1D2088"/>
<circle cx="1855.75" cy="104.98" r="1.1" fill="#1D2088"/>
<circle cx="1861.37" cy="104.68" r="1.1" fill="#1D2088"/>
<circle cx="1856.93" cy="105.3" r="1.1" fill="#1D2088"/>
<circle cx="1857.05" cy="103.69" r="1.1" fill="#1D2088"/>
<circle cx="1855.32" cy="106.92" r="1.1" fill="#1D2088"/>
<circle cx="1857.02" cy="106.66" r="1.1" fill="#1D2088"/>
<circle cx="1860.37" cy="104.26" r="1.1" fill="#1D2088"/>
<circle cx="1861.4" cy="105.16" r="1.1" fill="#1D2088"/>
<circle cx="1859.47" cy="102.36" r="1.1" fill="#1D2088"/>
<circle cx="1859.25" cy="106.22" r="1.1" fill="#1D2088"/>
<circle cx="1860.75" cy="106.39" r="1.1" fill="#1D2088"/>
<circle cx="1864.37" cy="105.4" r="1.1" fill="#1D2088"/>
<circle cx="1866.11" cy="102.13" r="1.1" fill="#1D2088"/>
<circle cx="1858.13" cy="101.3" r="1.1" fill="#1D2088"/>
<ellipse cx="1859" cy="126.7" rx="11.0" ry="5.3" fill="#F6C684"/>
<circle cx="1861.95" cy="126.86" r="1.1" fill="#1D2088"/>
<circle cx="1865.08" cy="126.08" r="1.1" fill="#1D2088"/>
<circle cx="1851.71" cy="128.87" r="1.1" fill="#1D2088"/>
<circle cx="1854.17" cy="124.54" r="1.1" fill="#1D2088"/>
<circle cx="1858.37" cy="127.77" r="1.1" fill="#1D2088"/>
<circle cx="1857.17" cy="127.02" r="1.1" fill="#1D2088"/>
<circle cx="1852.23" cy="129.64" r="1.1" fill="#1D2088"/>
<circle cx="1858.76" cy="126.9" r="1.1" fill="#1D2088"/>
<circle cx="1861.11" cy="126.99" r="1.1" fill="#1D2088"/>
<circle cx="1859.72" cy="125.12" r="1.1" fill="#1D2088"/>
<circle cx="1858.59" cy="127.44" r="1.1" fill="#1D2088"/>
<circle cx="1862.76" cy="126.5" r="1.1" fill="#1D2088"/>
<circle cx="1859.33" cy="127.27" r="1.1" fill="#1D2088"/>
<circle cx="1861.06" cy="127.05" r="1.1" fill="#1D2088"/>
<circle cx="1858.09" cy="125.83" r="1.1" fill="#1D2088"/>
<circle cx="1863.04" cy="127.2" r="1.1" fill="#1D2088"/>
<circle cx="1859.07" cy="130.1" r="1.1" fill="#1D2088"/>
<circle cx="1862.18" cy="128.15" r="1.1" fill="#1D2088"/>
<circle cx="1859.55" cy="124.98" r="1.1" fill="#1D2088"/>
<circle cx="1863.09" cy="126.55" r="1.1" fill="#1D2088"/>
<ellipse cx="1859" cy="146.7" rx="12.0" ry="5.3" fill="#F6C684"/>
<circle cx="1859.19" cy="148.45" r="1.1" fill="#1D2088"/>
<circle cx="1862.66" cy="147.11" r="1.1" fill="#1D2088"/>
<circle cx="1859.07" cy="150.1" r="1.1" fill="#1D2088"/>
<circle cx="1861.06" cy="144.96" r="1.1" fill="#1D2088"/>
<circle cx="1861.7" cy="146.96" r="1.1" fill="#1D2088"/>
<circle cx="1859.12" cy="147.86" r="1.1" fill="#1D2088"/>
<circle cx="1859.84" cy="150.1" r="1.1" fill="#1D2088"/>
<circle cx="1859.73" cy="147.13" r="1.1" fill="#1D2088"/>
<circle cx="1863.18" cy="145.74" r="1.1" fill="#1D2088"/>
<circle cx="1862.65" cy="146.6" r="1.1" fill="#1D2088"/>
<circle cx="1863.26" cy="145.26" r="1.1" fill="#1D2088"/>
<circle cx="1860.51" cy="143.98" r="1.1" fill="#1D2088"/>
<circle cx="1857.41" cy="146.73" r="1.1" fill="#1D2088"/>
<circle cx="1860.78" cy="150.06" r="1.1" fill="#1D2088"/>
<circle cx="1865.61" cy="144.42" r="1.1" fill="#1D2088"/>
<circle cx="1856.27" cy="148.83" r="1.1" fill="#1D2088"/>
<circle cx="1860.58" cy="144.38" r="1.1" fill="#1D2088"/>
<circle cx="1860.75" cy="144.79" r="1.1" fill="#1D2088"/>
<circle cx="1855.91" cy="144.56" r="1.1" fill="#1D2088"/>
<circle cx="1858.07" cy="150.1" r="1.1" fill="#1D2088"/>
<ellipse cx="1859" cy="167.0" rx="12.7" ry="5.3" fill="#F6C684"/>
<circle cx="1860.36" cy="166.82" r="1.1" fill="#1D2088"/>
<circle cx="1867" cy="166.22" r="1.1" fill="#1D2088"/>
<circle cx="1858.47" cy="166.55" r="1.1" fill="#1D2088"/>
<circle cx="1860.51" cy="166.47" r="1.1" fill="#1D2088"/>
<circle cx="1864.24" cy="166.5" r="1.1" fill="#1D2088"/>
<circle cx="1861.02" cy="167.38" r="1.1" fill="#1D2088"/>
<circle cx="1855.91" cy="165.34" r="1.1" fill="#1D2088"/>
<circle cx="1858.82" cy="163.6" r="1.1" fill="#1D2088"/>
<circle cx="1859.06" cy="167.13" r="1.1" fill="#1D2088"/>
<circle cx="1859.52" cy="166.87" r="1.1" fill="#1D2088"/>
<circle cx="1860.27" cy="166.41" r="1.1" fill="#1D2088"/>
<circle cx="1861.31" cy="164.24" r="1.1" fill="#1D2088"/>
<circle cx="1862.28" cy="165.51" r="1.1" fill="#1D2088"/>
<circle cx="1860.75" cy="166.21" r="1.1" fill="#1D2088"/>
<circle cx="1857.47" cy="165.66" r="1.1" fill="#1D2088"/>
<circle cx="1863.82" cy="165.16" r="1.1" fill="#1D2088"/>
<circle cx="1854.67" cy="167.37" r="1.1" fill="#1D2088"/>
<circle cx="1859.94" cy="167.07" r="1.1" fill="#1D2088"/>
<circle cx="1855.54" cy="165.9" r="1.1" fill="#1D2088"/>
<circle cx="1862.25" cy="165.25" r="1.1" fill="#1D2088"/>
<path d="M1737 125.9H1778.5M1737 128.4H1778.5" stroke="#231815" stroke-width="1.2" fill="none"/>
<path d="M1775.5 123.2L1783 127.15L1775.5 131.1" stroke="#231815" stroke-width="1.3" fill="none"/>
<path d="M1937.7 126.7L1978 126.7M1970 130.3L1978 126.7L1970 123.1" fill="none" stroke="#231815" stroke-width="1.4" stroke-linejoin="miter"/>
<g transform="translate(1618.4,132.1) rotate(-13.2)"><path d="M81.2 17.3V2.5H2.5V40.1H81.2V24.7" fill="none" stroke="#231815" stroke-width="6.3" stroke-linejoin="miter"/><path d="M81.2 15.5H98.5M81.2 26.5H98.5" fill="none" stroke="#231815" stroke-width="3.7"/><path d="M81.2 16.2V2.5H2.5V40.1H81.2V25.8" fill="none" stroke="#E6192E" stroke-width="3.9" stroke-linejoin="miter"/><path d="M81.2 15.5H97.4M81.2 26.5H97.4" fill="none" stroke="#E6192E" stroke-width="1.6"/><text x="12.5" y="27.1" font-size="22.5" textLength="51" lengthAdjust="spacingAndGlyphs">Oven</text><path d="M76.5 19.8H108M76.5 22.2H108" stroke="#231815" stroke-width="1.1" fill="none"/><path d="M106.8 17.4L114.7 21L106.8 24.6" stroke="#231815" stroke-width="1.3" fill="none"/></g>
<rect x="1992.8" y="49" width="18.8" height="176.1" fill="url(#gC)" stroke="#231815" stroke-width="1.3"/>
<text x="1816" y="34" font-size="21" textLength="82.5" lengthAdjust="spacingAndGlyphs" >Viewport</text>
<path d="M1856 40.3L1862.7 59.6M1858.09 54.85L1862.7 59.6L1863.38 53.01" fill="none" stroke="#231815" stroke-width="1.3" stroke-linejoin="miter"/>
<text x="1873.7" y="112.5" font-size="21" textLength="60" lengthAdjust="spacingAndGlyphs" >Atoms</text>
<text x="1892" y="149.5" font-size="21" textLength="81" lengthAdjust="spacingAndGlyphs" >To pump</text>
<text x="1628.3" y="104.7" font-size="21" textLength="94" lengthAdjust="spacingAndGlyphs" >Deflection</text>
<text x="1775" y="253.5" font-size="21" textLength="67" lengthAdjust="spacingAndGlyphs" >Sensor</text>
<path d="M1823.1 230.7L1816.1 201.6M1820.23 206.78L1816.1 201.6L1814.78 208.09" fill="none" stroke="#231815" stroke-width="1.3" stroke-linejoin="miter"/>
<text x="1896.5" y="274.4" font-size="21" textLength="95" lengthAdjust="spacingAndGlyphs" >MOT coils</text>
<path d="M1930.7 253.5L1923.1 227.5M1927.47 232.47L1923.1 227.5L1922.1 234.04" fill="none" stroke="#231815" stroke-width="1.3" stroke-linejoin="miter"/>
<text x="1989.5" y="40.4" font-size="20.5" textLength="53.4" lengthAdjust="spacingAndGlyphs" font-style="italic">ΔT(K)</text>
<text x="2014.3" y="64.9" font-size="20" textLength="20.3" lengthAdjust="spacingAndGlyphs" >+1</text>
<text x="2018" y="143" font-size="20" textLength="11.6" lengthAdjust="spacingAndGlyphs" >0</text>
<text x="2015" y="224.5" font-size="20" textLength="17" lengthAdjust="spacingAndGlyphs" >-1</text>
</svg>
</body></html>
